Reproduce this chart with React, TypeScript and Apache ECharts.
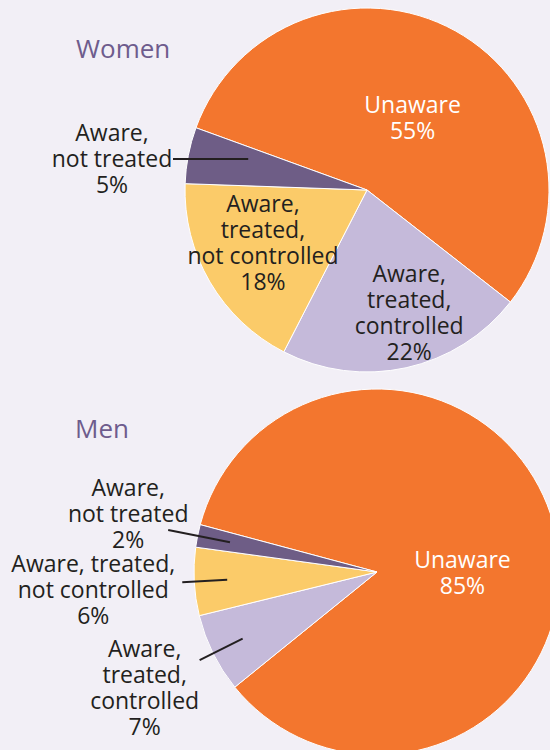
import React, { useEffect, useRef } from 'react';
import * as echarts from 'echarts';

// ---------- data ----------
const CATEGORIES = [
  'Unaware',
  'Aware, treated, controlled',
  'Aware, treated, not controlled',
  'Aware, not treated',
];
const WOMEN_VALUES = [55, 22, 18, 5];
const MEN_VALUES = [85, 7, 6, 2];
const WOMEN_LABELS = ['Unaware', 'Aware,\ntreated,\ncontrolled', 'Aware,\ntreated,\nnot controlled', 'Aware,\nnot treated'];
const MEN_LABELS = ['Unaware', 'Aware,\ntreated,\ncontrolled', 'Aware, treated,\nnot controlled', 'Aware,\nnot treated'];
const TITLES = ['Women', 'Men'];

// ---------- styles / layout ----------
const COLORS = ['#F3762E', '#C5BADA', '#FBCB69', '#6E5D86'];
const TEXT = '#231F20';
const TITLE_COLOR = '#6E5C8D';
const BG = '#F2EFF6';
const FONT = '"Open Sans", "Noto Sans", sans-serif';
const FONT_SIZE = 23;
const LINE_H = 26;

const WOMEN_LAYOUT = {
  center: [367, 190],
  radius: 182,
  lineRadius: 121,
  start: 160,
  inside: [true, true, true, false],
  innerOffset: [[0, 9], [22, 30], [-23, 4.5], [0, 0]],
  outerOffset: [[0, 0], [0, 0], [0, 0], [-61, -0.5]],
  lineLen: [0, 0, 0, 42],
  lineLen2: [0, 0, 0, 34],
  flatLine: true,
};
const MEN_LAYOUT = {
  center: [377, 572],
  radius: 183,
  lineRadius: 150,
  start: 165,
  inside: [true, false, false, false],
  innerOffset: [[-7, 20], [0, 0], [0, 0], [0, 0]],
  outerOffset: [[0, 0], [-55, 27], [-89, 7], [-40, -17]],
  lineLen: [0, 48, 45, 63],
  lineLen2: [0, 0, 0, 0],
  flatLine: false,
};

function buildSeries(values: number[], labels: string[], L: any) {
  const formatter = (p: any) => `${labels[p.dataIndex]}\n${p.value}%`;
  const visible = {
    type: 'pie',
    center: L.center,
    radius: L.radius,
    startAngle: L.start,
    clockwise: true,
    silent: true,
    avoidLabelOverlap: false,
    z: 2,
    itemStyle: { borderColor: '#ffffff', borderWidth: 1 },
    label: {
      position: 'inside',
      fontFamily: FONT,
      fontSize: FONT_SIZE,
      lineHeight: LINE_H,
      color: TEXT,
      formatter,
    },
    labelLine: { show: false },
    labelLayout: (p: any) => {
      const o = L.innerOffset[p.dataIndex] || [0, 0];
      const r = p.labelRect;
      return {
        x: r.x + r.width / 2 + o[0],
        y: r.y + r.height / 2 + o[1],
        align: 'center',
        verticalAlign: 'middle',
      };
    },
    data: values.map((v, i) => ({
      name: CATEGORIES[i],
      value: v,
      itemStyle: { color: COLORS[i] },
      label: { show: L.inside[i], color: i === 0 ? '#ffffff' : TEXT },
    })),
  };
  const leaders = {
    type: 'pie',
    center: L.center,
    radius: L.lineRadius,
    startAngle: L.start,
    clockwise: true,
    silent: true,
    avoidLabelOverlap: false,
    z: 3,
    itemStyle: { color: 'rgba(0,0,0,0)', borderWidth: 0 },
    label: {
      position: 'outside',
      fontFamily: FONT,
      fontSize: FONT_SIZE,
      lineHeight: LINE_H,
      color: TEXT,
      formatter,
    },
    labelLine: { show: true, lineStyle: { color: TEXT, width: 2, opacity: 1 } },
    labelLayout: (p: any) => {
      const o = L.outerOffset[p.dataIndex] || [0, 0];
      const pts = p.labelLinePoints;
      if (!pts) {
        const r = p.labelRect;
        return { x: r.x + r.width / 2 + o[0], y: r.y + r.height / 2 + o[1], align: 'center', verticalAlign: 'middle' };
      }
      const last = pts[pts.length - 1];
      return {
        x: last[0] + o[0],
        y: last[1] + o[1],
        align: 'center',
        verticalAlign: 'middle',
        labelLinePoints: L.flatLine ? pts.map((q: number[]) => [q[0], last[1]]) : pts,
      };
    },
    data: values.map((v, i) => ({
      name: CATEGORIES[i],
      value: v,
      label: { show: !L.inside[i] },
      labelLine: { show: !L.inside[i], length: L.lineLen[i], length2: L.lineLen2[i] },
    })),
  };
  return [visible, leaders];
}

export default function App() {
  const ref = useRef<HTMLDivElement>(null);
  useEffect(() => {
    if (!ref.current) return;
    const chart = echarts.init(ref.current, undefined, { renderer: 'svg' });
    const titleStyle = { fontFamily: FONT, fontSize: 26, fontWeight: 'normal', color: TITLE_COLOR };
    chart.setOption({
      animation: false,
      backgroundColor: BG,
      title: [
        { text: TITLES[0], left: 76, top: 35, padding: 0, textStyle: titleStyle },
        { text: TITLES[1], left: 75, top: 415, padding: 0, textStyle: titleStyle },
      ],
      series: [
        ...buildSeries(WOMEN_VALUES, WOMEN_LABELS, WOMEN_LAYOUT),
        ...buildSeries(MEN_VALUES, MEN_LABELS, MEN_LAYOUT),
      ],
    });
    return () => chart.dispose();
  }, []);
  return (
    <div
      ref={ref}
      style={{ position: 'absolute', left: 0, top: 0, width: 550, height: 750, background: BG, overflow: 'hidden' }}
    />
  );
}
